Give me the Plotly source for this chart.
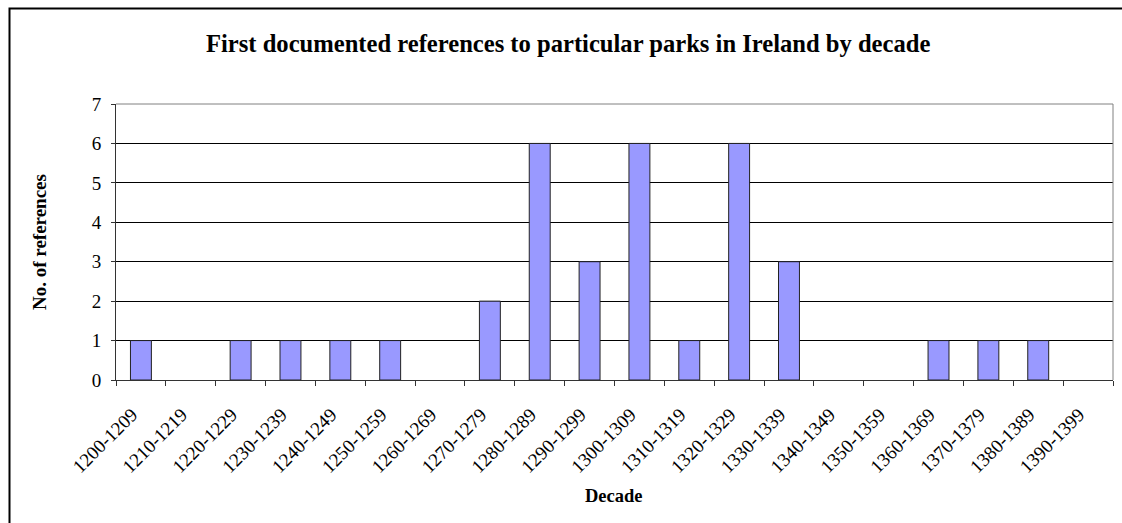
import plotly.graph_objects as go

decades = ["1200-1209", "1210-1219", "1220-1229", "1230-1239", "1240-1249",
           "1250-1259", "1260-1269", "1270-1279", "1280-1289", "1290-1299",
           "1300-1309", "1310-1319", "1320-1329", "1330-1339", "1340-1349",
           "1350-1359", "1360-1369", "1370-1379", "1380-1389", "1390-1399"]
references = [1, 0, 1, 1, 1, 1, 0, 2, 6, 3, 6, 1, 6, 3, 0, 0, 1, 1, 1, 0]

title_text = "First documented references to particular parks in Ireland by decade"
x_title = "Decade"
y_title = "No. of references"

FONT = "Liberation Serif"
W, H = 1122, 523
L, R, T, B = 116, 9, 104, 143
pw = W - L - R
ph = H - T - B

# zero-valued decades draw no bar at all
bar_values = [v if v > 0 else None for v in references]

fig = go.Figure(go.Bar(
    x=decades, y=bar_values,
    marker=dict(color="#9999FF", line=dict(color="#222222", width=1)),
))

def px_x(p):
    return (p - L) / pw

def px_y(p):
    return 1 - (p - T) / ph

fig.update_layout(
    width=W, height=H,
    margin=dict(l=L, r=R, t=T, b=B, pad=0),
    paper_bgcolor="white", plot_bgcolor="white",
    bargap=0.58,
    showlegend=False,
    font=dict(family=FONT, size=19, color="black"),
    xaxis=dict(
        type="category", tickson="boundaries", ticks="outside", ticklen=5,
        tickcolor="#333333", tickwidth=1, tickangle=-45,
        showline=True, linecolor="#333333", linewidth=1,
        showgrid=False, zeroline=False,
        tickfont=dict(family=FONT, size=19),
        ticklabelstandoff=15,
        ticklabelshift=-9,
    ),
    yaxis=dict(
        range=[0, 7], dtick=1, ticks="outside", ticklen=4,
        tickcolor="#333333", tickwidth=1,
        showline=True, linecolor="#333333", linewidth=1,
        showgrid=True, gridcolor="black", gridwidth=1, zeroline=False,
        tickfont=dict(family=FONT, size=19),
        ticklabelstandoff=6,
    ),
    shapes=[
        dict(type="rect", xref="paper", yref="paper",
             x0=px_x(9.5), x1=px_x(1130), y0=px_y(8.5), y1=px_y(530),
             line=dict(color="black", width=2), layer="below"),
        dict(type="line", xref="paper", yref="paper",
             x0=0, x1=1, y0=1, y1=1, line=dict(color="#808080", width=1), layer="above"),
        dict(type="line", xref="paper", yref="paper",
             x0=1, x1=1, y0=0, y1=1, line=dict(color="#808080", width=1), layer="above"),
    ],
    annotations=[
        dict(text="<b>" + title_text + "</b>", xref="paper", yref="paper",
             x=px_x(567.5), y=px_y(44), xanchor="center", yanchor="middle",
             showarrow=False, font=dict(family=FONT, size=24.6)),
        dict(text="<b>" + x_title + "</b>", xref="paper", yref="paper",
             x=px_x(614), y=px_y(495.5), xanchor="center", yanchor="middle",
             showarrow=False, font=dict(family=FONT, size=18.5)),
        dict(text="<b>" + y_title + "</b>", xref="paper", yref="paper",
             x=px_x(39), y=px_y(242), xanchor="center", yanchor="middle",
             textangle=-90, showarrow=False, font=dict(family=FONT, size=19)),
    ],
)

fig.write_html("out.html")
